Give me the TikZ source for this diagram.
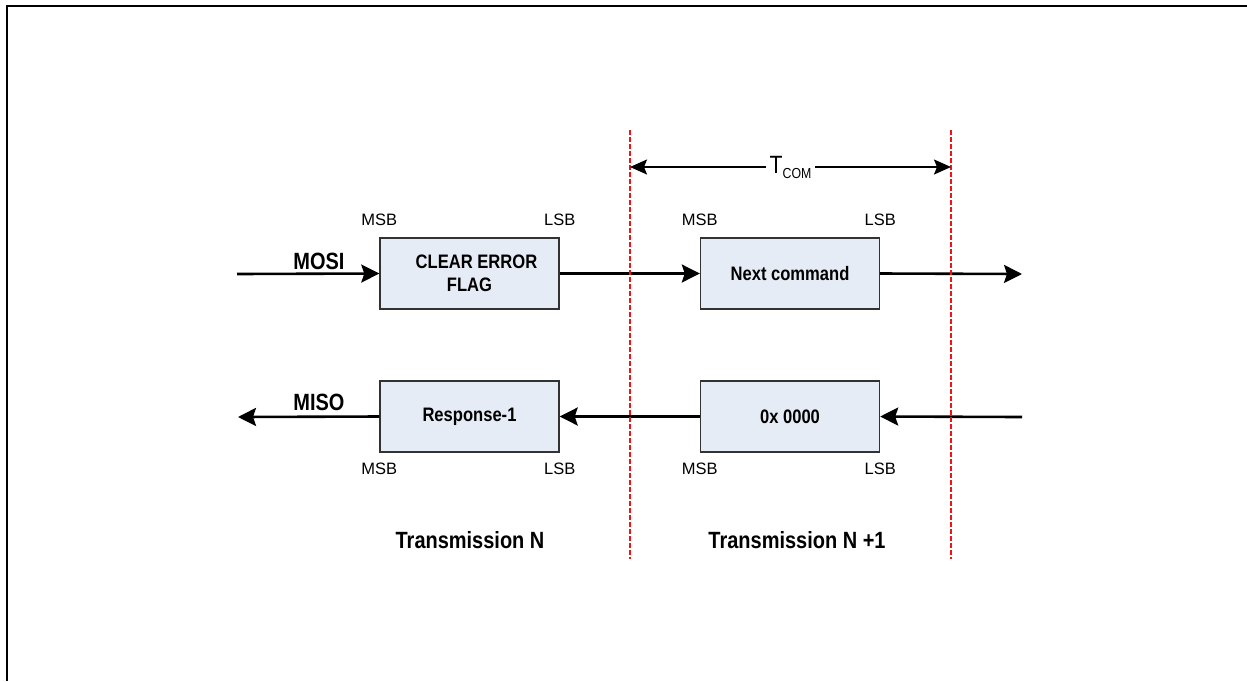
\documentclass[tikz,border=0pt]{standalone}
\usepackage{fontspec}
\setmainfont{Liberation Sans}
\newfontfamily\narrowsans[FakeStretch=0.85]{Liberation Sans}
\usetikzlibrary{arrows.meta}
\definecolor{boxfill}{RGB}{230,236,246}
\definecolor{boxline}{RGB}{50,50,50}
\definecolor{cutred}{RGB}{240,20,20}
\tikzset{
  wordbox/.style={draw=boxline,line width=1.4pt,fill=boxfill,minimum width=179pt,minimum height=71pt,
    align=center,font=\narrowsans\fontsize{19.5}{23}\selectfont\bfseries},
  sig/.style={line width=2.6pt,-{Stealth[length=18pt,width=18pt,inset=3pt]}},
  bit/.style={inner sep=0pt,font=\fontsize{16.5}{18}\selectfont},
  lbl/.style={inner sep=0pt,font=\narrowsans\fontsize{23.5}{26}\selectfont\bfseries},
  cut/.style={cutred,line width=1.5pt,dash pattern=on 5pt off 2pt}
}

\begin{document}
\begin{tikzpicture}[x=1pt,y=-1pt]
    \useasboundingbox (0,0) rectangle (1247,681);
    \draw[line width=2.5pt] (7,681) -- (7,6) -- (1247,6);

    \node[wordbox] (clr) at (469.5,273.5) {\hspace*{14pt}CLEAR ERROR\\FLAG};
    \node[wordbox] (nxt) at (790,273.5) {Next command};
    \node[wordbox] (rsp) at (469.5,416.5) {Response-1};
    \node[wordbox] (nul) at (790,416.5) {0x 0000};

    \coordinate (mosiin) at (237,274);
    \coordinate (mosiout) at (1022,274);
    \coordinate (misoin) at (1022,417);
    \coordinate (misoout) at (238,417);

    \draw[sig] (mosiin) -- (clr.west);
    \draw[sig] (clr.east) -- (nxt.west);
    \draw[sig] (nxt.east) -- (mosiout);
    \draw[sig] (misoin) -- (nul.east);
    \draw[sig] (nul.west) -- (rsp.east);
    \draw[sig] (rsp.west) -- (misoout);

    \node[lbl] (mosi) at (319,261) {MOSI};
    \node[lbl] (miso) at (319,402) {MISO};

    \foreach \b in {clr,nxt}{
      \node[bit,above=11pt] at (\b.north west) {MSB};
      \node[bit,above=11pt] at (\b.north east) {LSB};
    }
    \foreach \b in {rsp,nul}{
      \node[bit,below=10pt] at (\b.south west) {MSB};
      \node[bit,below=10pt] at (\b.south east) {LSB};
    }

    \foreach \x in {630,951}{
      \draw[cut] (\x,130) -- (\x,559);
    }
    \coordinate (tcomA) at (630,167);
    \coordinate (tcomB) at (951,167);
    \draw[line width=1.8pt,{Stealth[length=17pt,width=15pt,inset=3pt]}-{Stealth[length=17pt,width=15pt,inset=3pt]}]
      (tcomA) -- node[fill=white,inner sep=4pt,font=\narrowsans\fontsize{25}{26}\selectfont]
      {T\raisebox{-5pt}{\fontsize{14.5}{15}\selectfont COM}} (tcomB);

    \node[lbl] (txn) at (470,540) {Transmission N};
    \node[lbl] (txn1) at (797,540) {Transmission N +1};
  \end{tikzpicture}
\end{document}
